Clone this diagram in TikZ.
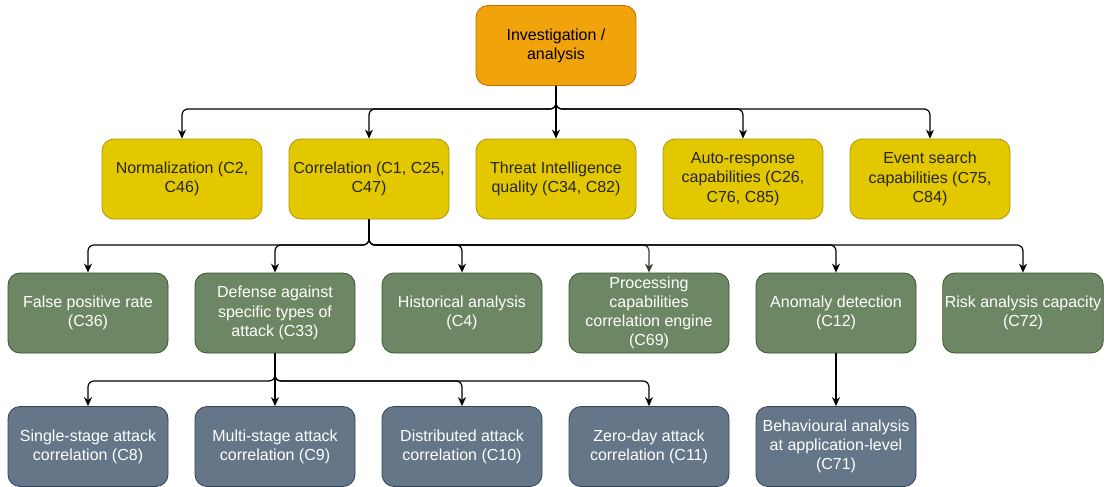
\documentclass[tikz,border=0pt]{standalone}
\usepackage{fontspec}
\setmainfont{Liberation Sans}
\usetikzlibrary{arrows.meta}
\definecolor{orangefill}{HTML}{F0A30A}
\definecolor{orangeline}{HTML}{BD7000}
\definecolor{yellowfill}{HTML}{E3C800}
\definecolor{yellowline}{HTML}{B09500}
\definecolor{greenfill}{HTML}{6D8764}
\definecolor{greenline}{HTML}{3A5431}
\definecolor{slatefill}{HTML}{647687}
\definecolor{slateline}{HTML}{314354}
\begin{document}
\begin{tikzpicture}[x=1pt,y=-1pt,
  box/.style={draw, rounded corners=12pt, minimum width=160pt, minimum height=80pt,
    align=center, line width=0.8pt, inner sep=2pt,
    font=\fontsize{16}{19.2}\selectfont},
  topbox/.style={box, fill=orangefill, draw=orangeline, text=black},
  catbox/.style={box, fill=yellowfill, draw=yellowline, text=black!85},
  subbox/.style={box, fill=greenfill, draw=greenline, text=white},
  leafbox/.style={box, fill=slatefill, draw=slateline, text=white},
  edge/.style={draw=black, line width=1.2pt, rounded corners=6pt,
    -{Stealth[length=9pt,width=8pt]}},
  greenedge/.style={edge, draw=greenline!80!black}
]
\useasboundingbox (0,0) rectangle (1106,487);

% root
\node[topbox] (top) at (556,45.5) {Investigation /\\analysis};

% second level
\node[catbox] (norm)   at (182,179) {Normalization (C2,\\C46)};
\node[catbox] (corr)   at (369,179) {Correlation (C1, C25,\\C47)};
\node[catbox] (threat) at (556,179) {Threat Intelligence\\quality (C34, C82)};
\node[catbox] (auto)   at (743,179) {Auto-response\\capabilities (C26,\\C76, C85)};
\node[catbox] (event)  at (930,179) {Event search\\capabilities (C75,\\C84)};

% third level
\node[subbox] (fpr)  at (88,313)   {False positive rate\\(C36)};
\node[subbox] (def)  at (275,313)  {Defense against\\specific types of\\attack (C33)};
\node[subbox] (hist) at (462,313)  {Historical analysis\\(C4)};
\node[subbox] (proc) at (649,313)  {Processing\\capabilities\\correlation engine\\(C69)};
\node[subbox] (anom) at (836,313)  {Anomaly detection\\(C12)};
\node[subbox] (risk) at (1023,313) {Risk analysis capacity\\(C72)};

% fourth level
\node[leafbox] (single) at (88,446.5)  {Single-stage attack\\correlation (C8)};
\node[leafbox] (multi)  at (275,446.5) {Multi-stage attack\\correlation (C9)};
\node[leafbox] (dist)   at (462,446.5) {Distributed attack\\correlation (C10)};
\node[leafbox] (zero)   at (649,446.5) {Zero-day attack\\correlation (C11)};
\node[leafbox] (behav)  at (836,446.5) {Behavioural analysis\\at application-level\\(C71)};

% bus junctions
\coordinate (j1) at (556,109);
\coordinate (j2) at (369,245);
\coordinate (j3) at (275,381);

% root -> second level
\draw[edge] (top.south) -- (j1) -| (norm.north);
\draw[edge] (top.south) -- (j1) -| (corr.north);
\draw[edge] (top.south) -- (threat.north);
\draw[edge] (top.south) -- (j1) -| (auto.north);
\draw[edge] (top.south) -- (j1) -| (event.north);

% correlation -> third level
\draw[greenedge] (corr.south) -- (j2) -| (proc.north);
\draw[edge] (corr.south) -- (j2) -| (fpr.north);
\draw[edge] (corr.south) -- (j2) -| (def.north);
\draw[edge] (corr.south) -- (j2) -| (hist.north);
\draw[edge] (corr.south) -- (j2) -| (anom.north);
\draw[edge] (corr.south) -- (j2) -| (risk.north);

% defense -> fourth level
\draw[edge] (def.south) -- (j3) -| (single.north);
\draw[edge] (def.south) -- (multi.north);
\draw[edge] (def.south) -- (j3) -| (dist.north);
\draw[edge] (def.south) -- (j3) -| (zero.north);

% anomaly -> behavioural
\draw[edge] (anom.south) -- (behav.north);
\end{tikzpicture}
\end{document}
